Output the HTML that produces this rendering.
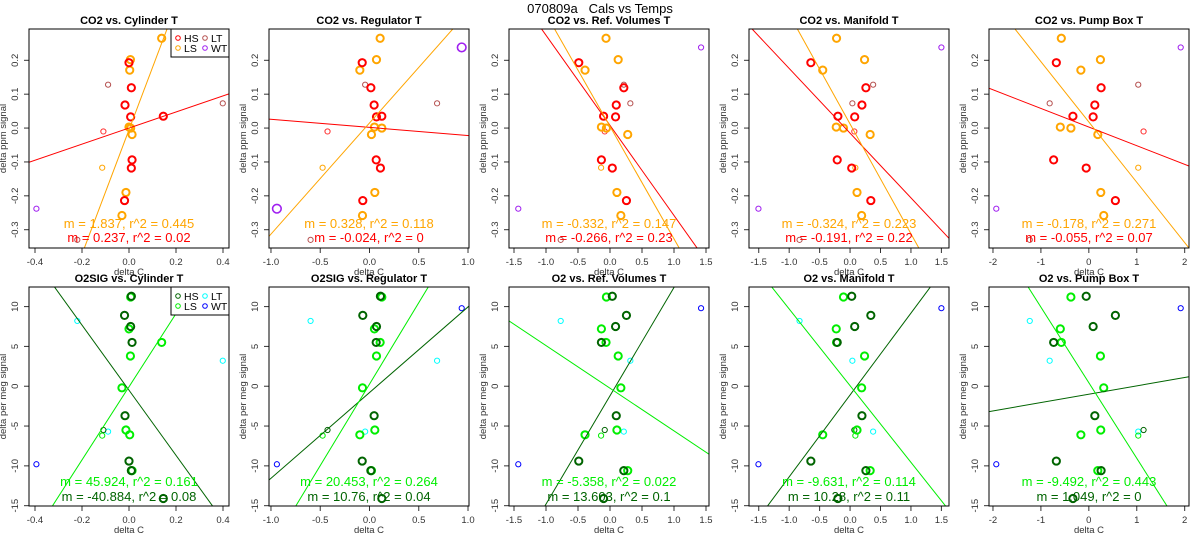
<!DOCTYPE html>
<html><head><meta charset="utf-8"><style>
html,body{margin:0;padding:0;background:#fff}
svg{display:block;font-family:"Liberation Sans",sans-serif}
</style></head><body>
<svg id="chart" width="1200" height="550" viewBox="0 0 1200 550" xmlns="http://www.w3.org/2000/svg"></svg>
<script>
// ---- data ----
const panelTitlesTop=["CO2 vs. Cylinder T","CO2 vs. Regulator T","CO2 vs. Ref. Volumes T","CO2 vs. Manifold T","CO2 vs. Pump Box T"];
const panelTitlesBot=["O2SIG vs. Cylinder T","O2SIG vs. Regulator T","O2 vs. Ref. Volumes T","O2 vs. Manifold T","O2 vs. Pump Box T"];
const xLimits=[[-0.4255,0.4255],[-1.02,1.01],[-1.578,1.547],[-1.66,1.625],[-2.083,2.09]];
const xTicks=[[-0.4,-0.2,0,0.2,0.4],[-1,-0.5,0,0.5,1],[-1.5,-1,-0.5,0,0.5,1,1.5],[-1.5,-1,-0.5,0,0.5,1,1.5],[-2,-1,0,1,2]];
const xTickLabels=[["-0.4","-0.2","0.0","0.2","0.4"],["-1.0","-0.5","0.0","0.5","1.0"],["-1.5","-1.0","-0.5","0.0","0.5","1.0","1.5"],["-1.5","-1.0","-0.5","0.0","0.5","1.0","1.5"],["-2","-1","0","1","2"]];
const yTicksTop=[0.2,0.1,0,-0.1,-0.2,-0.3];
const yTickLabelsTop=["0.2","0.1","0.0","-0.1","-0.2","-0.3"];
const yTicksBot=[10,5,0,-5,-10,-15];
const yTickLabelsBot=["10","5","0","-5","-10","-15"];
// HS series
const hsYTop=[0.193,0.119,0.068,0.033,0.035,-0.094,-0.118,-0.214];
const hsYBot=[-9.4,-10.6,-3.7,7.5,-14.1,5.5,11.3,8.9];
const hsX=[[0.0,0.01,-0.017,0.007,0.146,0.013,0.01,-0.019],
[-0.074,0.014,0.047,0.071,0.125,0.068,0.111,-0.068],
[-0.488,0.216,0.098,0.087,-0.1,-0.134,0.036,0.257],
[-0.644,0.26,0.195,0.076,-0.2,-0.211,0.027,0.341],
[-0.678,0.256,0.125,0.09,-0.332,-0.734,-0.055,0.554]];
// LS series
const lsYTop=[0.265,0.202,0.171,0.003,0.000,-0.019,-0.190,-0.258];
const lsYBot=[5.5,3.8,-6.1,7.2,11.2,-10.6,-5.5,-0.2];
const lsX=[[0.139,0.006,0.003,0.0,0.007,0.013,-0.013,-0.03],
[0.108,0.071,-0.098,0.05,0.125,0.02,0.054,-0.071],
[-0.062,0.128,-0.39,-0.134,-0.056,0.277,0.108,0.17],
[-0.222,0.238,-0.449,-0.227,-0.108,0.33,0.114,0.19],
[-0.574,0.242,-0.166,-0.595,-0.374,0.187,0.249,0.311]];
// small (LT / WT and others)
const smYTop=[0.128,0.073,-0.010,-0.117,-0.238,0.238,-0.33];
const smYBot=[-5.7,3.2,-5.5,-6.2,-9.8,9.8,8.2];
const smColTop=["#b5504f","#b5504f","#ff3030","#ffa500","#a020f0","#a020f0","#b5504f"];
const smColBot=["#00ffff","#00ffff","#006400","#00ee00","#0000ff","#0000ff","#00ffff"];
const smX=[[-0.089,0.399,-0.109,-0.114,-0.394,0.395,-0.22],
[-0.044,0.686,-0.426,-0.476,-0.94,0.936,-0.598],
[0.216,0.318,-0.082,-0.139,-1.433,1.423,-0.77],
[0.379,0.038,0.07,0.087,-1.505,1.5,-0.83],
[1.031,-0.817,1.142,1.031,-1.931,1.917,-1.232]];
// regression lines
const slopeLSTop=[1.837,0.328,-0.332,-0.324,-0.178];
const interLSTop=[-0.005,0.015,0.005,0.012,0.018];
const slopeHSTop=[0.237,-0.024,-0.266,-0.191,-0.055];
const interHSTop=[0.0,0.002,0.008,-0.015,0.003];
const slopeLSBot=[45.924,20.453,-5.358,-9.631,-9.492];
const interLSBot=[-0.07,0.26,-0.25,0.07,0.44];
const slopeHSBot=[-40.884,10.76,13.603,10.28,1.049];
const interHSBot=[-0.5,-0.8,-1.2,-1.1,-1.0];
const statLSTop=["m = 1.837, r^2 = 0.445","m = 0.328, r^2 = 0.118","m = -0.332, r^2 = 0.147","m = -0.324, r^2 = 0.223","m = -0.178, r^2 = 0.271"];
const statHSTop=["m = 0.237, r^2 = 0.02","m = -0.024, r^2 = 0","m = -0.266, r^2 = 0.23","m = -0.191, r^2 = 0.22","m = -0.055, r^2 = 0.07"];
const statLSBot=["m = 45.924, r^2 = 0.161","m = 20.453, r^2 = 0.264","m = -5.358, r^2 = 0.022","m = -9.631, r^2 = 0.114","m = -9.492, r^2 = 0.443"];
const statHSBot=["m = -40.884, r^2 = 0.08","m = 10.76, r^2 = 0.04","m = 13.603, r^2 = 0.1","m = 10.28, r^2 = 0.11","m = 1.049, r^2 = 0"];

// ---- drawing ----
const NS="http://www.w3.org/2000/svg";
const svg=document.getElementById('chart');
function mk(tag,attrs,parent){const e=document.createElementNS(NS,tag);for(const k in attrs)e.setAttribute(k,attrs[k]);(parent||svg).appendChild(e);return e;}
const rows=[{top:29,h:219,ymax:0.2924,ymin:-0.354},{top:287,h:219,ymax:12.46,ymin:-15.04}];
function sx(c,x){const L=29+240*c;const lim=xLimits[c];return L+(x-lim[0])/(lim[1]-lim[0])*200;}
function sy(r,y){const R=rows[r];return R.top+(R.ymax-y)/(R.ymax-R.ymin)*R.h;}

const mt=mk('text',{x:600,y:13,'text-anchor':'middle','font-size':13,fill:'#000',style:'white-space:pre'});


mt.textContent="070809a   Cals vs Temps";

for(let r=0;r<2;r++){
 for(let c=0;c<5;c++){
  const L=29+240*c, T=rows[r].top, B=T+rows[r].h;
  const g=mk('g',{});
  
  
  const cp=mk('clipPath',{id:'cp'+r+c},g);
  mk('rect',{x:L,y:T,width:200,height:rows[r].h},cp);
  const t=mk('text',{x:L+100,y:T-5,'text-anchor':'middle','font-size':11,'font-weight':'bold',fill:'#000'},g);
  
  
  t.textContent=(r?panelTitlesBot:panelTitlesTop)[c];
  xTicks[c].forEach((v,i)=>{const x=sx(c,v);
   mk('line',{x1:x,x2:x,y1:B,y2:B+5,stroke:'#333'},g);
   const tl=mk('text',{x:x,y:B+17,'text-anchor':'middle','font-size':9.5,fill:'#333'},g);
   
   
   tl.textContent=xTickLabels[c][i];});
  const yt=r?yTicksBot:yTicksTop, ytl=r?yTickLabelsBot:yTickLabelsTop;
  yt.forEach((v,i)=>{const y=sy(r,v);
   mk('line',{x1:L-5,x2:L,y1:y,y2:y,stroke:'#333'},g);
   const tl=mk('text',{x:L-11,y:y,'text-anchor':'middle','font-size':9.5,fill:'#333',transform:`rotate(-90 ${L-11} ${y})`},g);
   
   
   tl.textContent=ytl[i];});
  const xl=mk('text',{x:L+100,y:B+27,'text-anchor':'middle','font-size':9.5,fill:'#333'},g);
  
  
  xl.textContent="delta C";
  const ymid=T+rows[r].h/2;
  const yl=mk('text',{x:L-23,y:ymid,'text-anchor':'middle','font-size':9.5,fill:'#333',transform:`rotate(-90 ${L-23} ${ymid})`},g);
  
  
  yl.textContent=r?"delta per meg signal":"delta ppm signal";
  const pg=mk('g',{'clip-path':`url(#cp${r}${c})`},g);
  const smY=r?smYBot:smYTop, smC=r?smColBot:smColTop;
  smY.forEach((v,i)=>{const big=(r===0&&c===1&&(i===4||i===5));
   const p=mk('circle',{cx:sx(c,smX[c][i]),cy:sy(r,v),r:big?4.3:2.6,fill:'none',stroke:smC[i],'stroke-width':big?1.6:1},pg);
   
   });
  const hsY=r?hsYBot:hsYTop, lsY=r?lsYBot:lsYTop;
  const hsCol=r?'#006400':'#ff0000', lsCol=r?'#00ee00':'#ffa500';
  lsY.forEach((v,i)=>{const p=mk('circle',{cx:sx(c,lsX[c][i]),cy:sy(r,v),r:3.6,fill:'none',stroke:lsCol,'stroke-width':2},pg);
   
   });
  hsY.forEach((v,i)=>{const p=mk('circle',{cx:sx(c,hsX[c][i]),cy:sy(r,v),r:3.6,fill:'none',stroke:hsCol,'stroke-width':2},pg);
   
   });
  const lim=xLimits[c];
  const defs=[[r?slopeHSBot:slopeHSTop,r?interHSBot:interHSTop,hsCol,'hs-fit-line'],[r?slopeLSBot:slopeLSTop,r?interLSBot:interLSTop,lsCol,'ls-fit-line']];
  defs.forEach(d=>{const m=d[0][c],b=d[1][c];
   const ln=mk('line',{x1:sx(c,lim[0]),y1:sy(r,b+m*lim[0]),x2:sx(c,lim[1]),y2:sy(r,b+m*lim[1]),stroke:d[2],'stroke-width':1},pg);
   
   });
  const s1=mk('text',{x:L+100,y:r?486:228,'text-anchor':'middle','font-size':13,fill:lsCol},g);
  
  
  s1.textContent=(r?statLSBot:statLSTop)[c];
  const s2=mk('text',{x:L+100,y:r?501:242,'text-anchor':'middle','font-size':13,fill:hsCol},g);
  
  
  s2.textContent=(r?statHSBot:statHSTop)[c];
  if(c===0){
   const lg=mk('g',{},g);
   
   
   mk('rect',{x:171,y:T,width:58,height:28,fill:'#fff',stroke:'#000'},lg);
   const ents=r?[['HS','#006400',178,T+9],['LS','#00ee00',178,T+19],['LT','#00ffff',205,T+9],['WT','#0000ff',205,T+19]]
              :[['HS','#ff0000',178,T+9],['LS','#ffa500',178,T+19],['LT','#b5504f',205,T+9],['WT','#a020f0',205,T+19]];
   ents.forEach(e=>{
    const eg=mk('g',{},lg);
    
    
    mk('circle',{cx:e[2],cy:e[3],r:2.3,fill:'none',stroke:e[1],'stroke-width':1},eg);
    const tx=mk('text',{x:e[2]+6,y:e[3]+4,'font-size':10.5,fill:'#000'},eg);
    tx.textContent=e[0];});
  }
  mk('rect',{x:L,y:T,width:200,height:rows[r].h,fill:'none',stroke:'#000','stroke-width':1},g);
 }
}
</script>
</body></html>
